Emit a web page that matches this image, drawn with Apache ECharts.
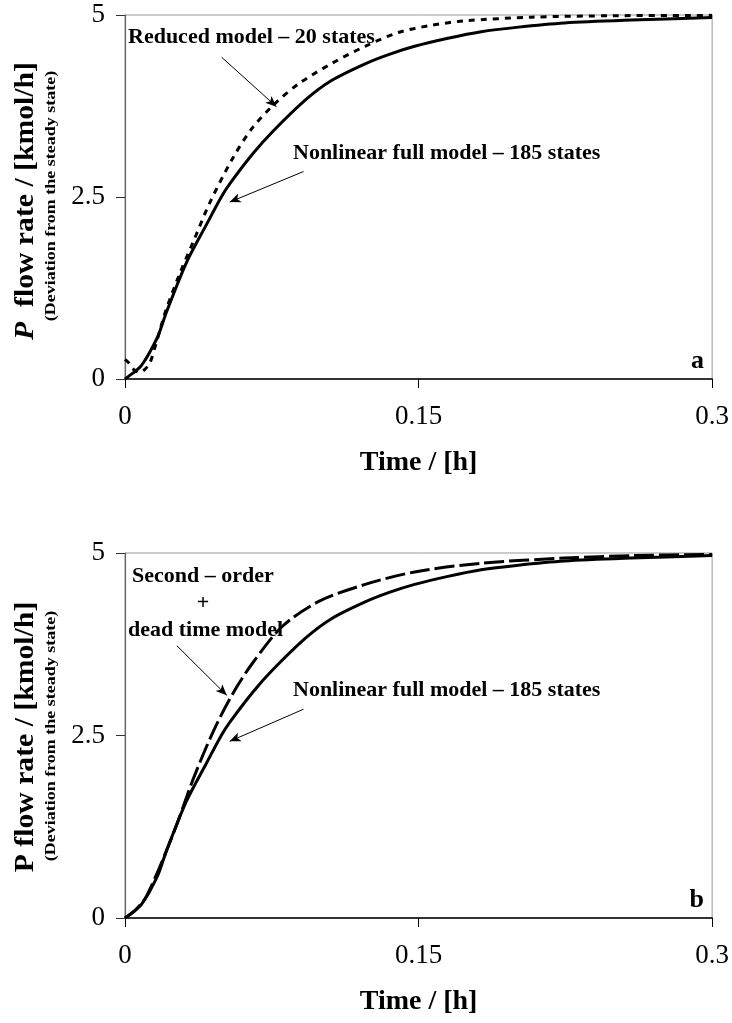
<!DOCTYPE html>
<html>
<head>
<meta charset="utf-8">
<script src="https://cdn.jsdelivr.net/npm/echarts@6/dist/echarts.min.js"></script>
<style>
html,body{margin:0;padding:0;background:#fff;}
#chart{width:732px;height:1023px;}
</style>
</head>
<body>
<div id="chart"></div>
<script>
// ---- Data (time in h, P flow rate deviation in kmol/h) ----
const fullT = [0,0.004,0.0076,0.0105,0.0127,0.017,0.0212,0.0314,0.0416,0.0492,0.0535,0.0655,0.0755,0.0925,0.1055,0.1227,0.135,0.148,0.165,0.182,0.2,0.2246,0.2586,0.3];
const fullP = [0,0.08,0.16,0.27,0.37,0.6,0.92,1.6,2.12,2.5,2.68,3.1,3.4,3.84,4.1,4.33,4.46,4.57,4.68,4.77,4.83,4.89,4.93,4.965];

const reducedT = [0,0.002,0.0045,0.0075,0.01,0.0127,0.016,0.021,0.028,0.0348,0.0433,0.0552,0.0654,0.0773,0.089,0.106,0.1227,0.1397,0.157,0.1737,0.2077,0.25,0.3];
const reducedP = [0.27,0.22,0.13,0.09,0.13,0.22,0.5,0.95,1.45,1.88,2.42,3.04,3.46,3.8,4.06,4.34,4.57,4.76,4.86,4.92,4.97,4.99,4.995];

const secondT = [0,0.005,0.011,0.0246,0.0348,0.045,0.0552,0.0654,0.0806,0.0993,0.1227,0.148,0.182,0.2246,0.26,0.3];
const secondP = [0,0.1,0.3,1.15,1.9,2.55,3.08,3.5,4.0,4.34,4.57,4.74,4.86,4.93,4.965,4.98];

const xTicks = [0, 0.15, 0.3];
const yTicks = [0, 2.5, 5];

// annotation arrows (data coordinates: [start],[tip])
const arrowsA = [[[0.0494,4.42],[0.0774,3.74]], [[0.0912,2.85],[0.0535,2.43]]];
const arrowsB = [[[0.0265,3.73],[0.052,3.05]], [[0.0912,2.86],[0.0535,2.42]]];

const serif = "'Liberation Serif','Times New Roman',serif";

function pairs(t, v){ return t.map((x,i)=>[x, v[i]]); }
function arrowLines(arr){
  return arr.map(a => [{coord:a[0], symbol:'none'}, {coord:a[1], symbol:'arrow'}]);
}

function xAxisOf(idx){
  return {
    type:'value', gridIndex:idx, min:xTicks[0], max:xTicks[xTicks.length-1], interval:xTicks[1]-xTicks[0],
    name:'Time / [h]', nameLocation:'middle', nameGap:70,
    nameTextStyle:{fontFamily:serif, fontWeight:'bold', fontSize:28, color:'#000'},
    axisLine:{show:true, onZero:false, lineStyle:{color:'#000', width:1.5}},
    axisTick:{show:true, inside:false, length:9, lineStyle:{color:'#000', width:1}},
    axisLabel:{fontFamily:serif, fontSize:27, color:'#000', margin:24,
      formatter: v => String(v)},
    splitLine:{show:false}
  };
}
function yAxisOf(idx){
  return {
    type:'value', gridIndex:idx, min:yTicks[0], max:yTicks[yTicks.length-1], interval:yTicks[1]-yTicks[0],
    axisLine:{show:true, onZero:false, lineStyle:{color:'#666', width:1.2}},
    axisTick:{show:true, inside:false, length:9, lineStyle:{color:'#333', width:1}},
    axisLabel:{fontFamily:serif, fontSize:27, color:'#000', margin:20,
      formatter: v => String(v)},
    splitLine:{show:false}
  };
}

const markStyle = {
  silent:true, animation:false, symbolSize:[7,11],
  lineStyle:{color:'#000', width:1, type:'solid'},
  label:{show:false}
};

function txt(x, y, text, size, align, extra){
  return Object.assign({
    type:'text', x:x, y:y, silent:true,
    style:{text:text, fontFamily:serif, fontWeight:'bold', fontSize:size, fill:'#000',
      align:align||'left', verticalAlign:'middle', textAlign:align||'left', textVerticalAlign:'middle'}
  }, extra||{});
}

const lineCommon = {showSymbol:false, smooth:0.3};

const chart = echarts.init(document.getElementById('chart'), null, {renderer:'canvas'});
chart.setOption({
  animation:false,
  backgroundColor:'#fff',
  grid:[
    {left:125, top:15, width:589, height:364, show:true, borderColor:'#999', borderWidth:1, backgroundColor:'transparent'},
    {left:125, top:553, width:589, height:365, show:true, borderColor:'#999', borderWidth:1, backgroundColor:'transparent'}
  ],
  xAxis:[xAxisOf(0), xAxisOf(1)],
  yAxis:[yAxisOf(0), yAxisOf(1)],
  series:[
    Object.assign({type:'line', name:'Nonlinear full model – 185 states', xAxisIndex:0, yAxisIndex:0,
     data:pairs(fullT, fullP), lineStyle:{color:'#000', width:3}, z:3,
     markLine:Object.assign({data:arrowLines(arrowsA)}, markStyle)}, lineCommon),
    Object.assign({type:'line', name:'Reduced model – 20 states', xAxisIndex:0, yAxisIndex:0,
     data:pairs(reducedT, reducedP), lineStyle:{color:'#000', width:3, type:[6,6]}, z:4}, lineCommon),
    Object.assign({type:'line', name:'Nonlinear full model – 185 states', xAxisIndex:1, yAxisIndex:1,
     data:pairs(fullT, fullP), lineStyle:{color:'#000', width:3}, z:3,
     markLine:Object.assign({data:arrowLines(arrowsB)}, markStyle)}, lineCommon),
    Object.assign({type:'line', name:'Second – order + dead time model', xAxisIndex:1, yAxisIndex:1,
     data:pairs(secondT, secondP), lineStyle:{color:'#000', width:3, type:[20,5]}, z:4}, lineCommon)
  ],
  graphic:[
    // y-axis titles (top)
    {type:'text', x:26, y:201, rotation:Math.PI/2, scaleX:1.1, silent:true,
     style:{text:'{i|P}  flow rate / [kmol/h]', fontFamily:serif, fontWeight:'bold', fontSize:27, fill:'#000',
       align:'center', verticalAlign:'middle', textAlign:'center', textVerticalAlign:'middle',
       rich:{i:{fontFamily:serif, fontWeight:'bold', fontStyle:'italic', fontSize:27, fill:'#000'}}}},
    {type:'text', x:51, y:196, rotation:Math.PI/2, scaleX:1.2, silent:true,
     style:{text:'(Deviation from the steady state)', fontFamily:serif, fontWeight:'bold', fontSize:15, fill:'#000',
       align:'center', verticalAlign:'middle', textAlign:'center', textVerticalAlign:'middle'}},
    // y-axis titles (bottom)
    {type:'text', x:26, y:737, rotation:Math.PI/2, scaleX:1.1, silent:true,
     style:{text:'P flow rate / [kmol/h]', fontFamily:serif, fontWeight:'bold', fontSize:27, fill:'#000',
       align:'center', verticalAlign:'middle', textAlign:'center', textVerticalAlign:'middle'}},
    {type:'text', x:51, y:736, rotation:Math.PI/2, scaleX:1.2, silent:true,
     style:{text:'(Deviation from the steady state)', fontFamily:serif, fontWeight:'bold', fontSize:15, fill:'#000',
       align:'center', verticalAlign:'middle', textAlign:'center', textVerticalAlign:'middle'}},
    // annotations top
    txt(128, 37, 'Reduced model – 20 states', 22, 'left'),
    txt(293, 153, 'Nonlinear full model – 185 states', 22, 'left'),
    txt(704, 361, 'a', 26, 'right'),
    // annotations bottom
    txt(132, 576, 'Second – order', 22, 'left'),
    txt(203, 603, '+', 22, 'center'),
    txt(128, 630, 'dead time model', 22, 'left'),
    txt(293, 690, 'Nonlinear full model – 185 states', 22, 'left'),
    txt(704, 900, 'b', 26, 'right')
  ]
});
</script>
</body>
</html>
